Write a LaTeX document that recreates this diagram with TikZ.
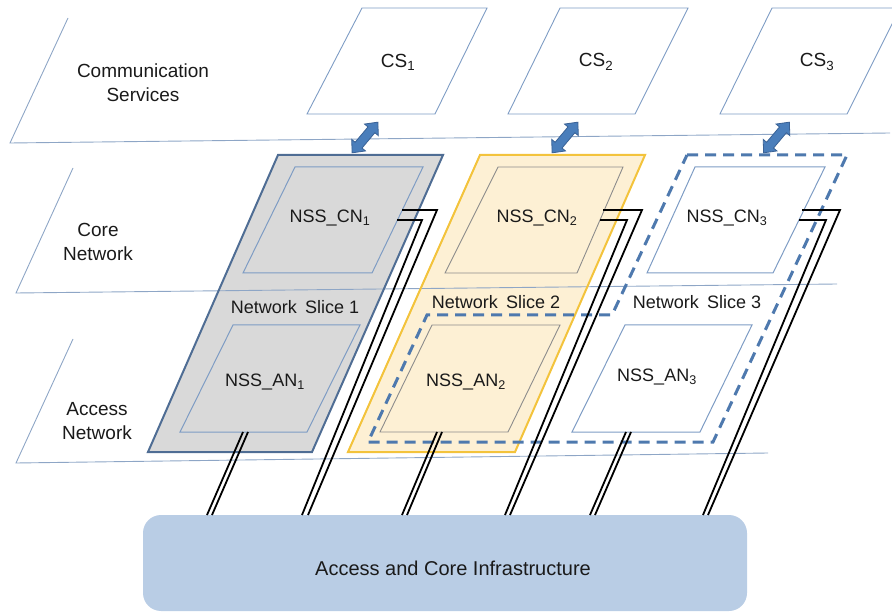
\documentclass[tikz,border=0pt]{standalone}
\usepackage{fontspec}
\setmainfont{Liberation Sans}
\definecolor{layerline}{HTML}{8EA6C6}
\definecolor{boxblue}{HTML}{7E9CC4}
\definecolor{sliceoneedge}{HTML}{4F6D94}
\definecolor{sliceonefill}{HTML}{D9D9D9}
\definecolor{slicetwoedge}{HTML}{F3C33C}
\definecolor{slicetwofill}{HTML}{FDF0D4}
\definecolor{slicethreeedge}{HTML}{4E79AE}
\definecolor{arrowblue}{HTML}{4A7EBB}
\definecolor{arrowdark}{HTML}{3A6296}
\definecolor{infrafill}{HTML}{B9CDE5}
\definecolor{txt}{HTML}{1A1A1A}
\begin{document}
\begin{tikzpicture}[x=1pt,y=-1pt,
  layer/.style={draw=layerline, line width=0.9pt},
  csbox/.style={draw=boxblue, line width=0.9pt},
  innerblue/.style={draw=boxblue, line width=1pt},
  innergray/.style={draw=black!45, line width=0.9pt},
  lbl/.style={font=\fontsize{19}{24}\selectfont, align=center, text=txt, inner sep=0pt},
  nss/.style={font=\fontsize{18}{22}\selectfont, text=txt, inner sep=0pt},
  wire/.style={line width=1.8pt, draw=black, line join=miter},
  biarrow/.style={fill=arrowblue, draw=arrowdark, line width=0.8pt, line join=miter}]
\useasboundingbox (0,0) rectangle (892,612);
\clip (0,0) rectangle (892,612);

% layer planes (left and bottom edges)
\draw[layer] (68,18) -- (10,143) -- (890,133);

% CS boxes
\draw[csbox] (362,8) -- (487,8) -- (435,114) -- (307,114) -- cycle;
\draw[csbox] (560,8) -- (688,8) -- (635,114) -- (508,114) -- cycle;
\draw[csbox] (772,8) -- (900,8) -- (847,114) -- (720,114) -- cycle;
\node[lbl] (cs1) at (398,62) {CS\textsubscript{1}};
\node[lbl] (cs2) at (596,62) {CS\textsubscript{2}};
\node[lbl] (cs3) at (817,62) {CS\textsubscript{3}};

% slice 1 and slice 2 fills
\fill[sliceonefill] (278,155) -- (443,155) -- (312,452) -- (148,452) -- cycle;
\fill[slicetwofill] (480,155) -- (645,155) -- (515,452) -- (348,452) -- cycle;

% layer plane lines crossing the slices
\draw[layer] (73,168) -- (16,293) -- (837,284);
\draw[layer] (73,339) -- (16,463) -- (768,453);

\draw[sliceoneedge, line width=2pt, line join=miter] (278,155) -- (443,155) -- (312,452) -- (148,452) -- cycle;
\draw[slicetwoedge, line width=2pt, line join=miter] (480,155) -- (645,155) -- (515,452) -- (348,452) -- cycle;

% inner NSS boxes
\draw[innerblue] (295,167) -- (423,167) -- (372,273) -- (243,273) -- cycle;
\draw[innerblue] (233,325) -- (360,325) -- (307,432) -- (180,432) -- cycle;
\draw[innergray] (498,167) -- (623,167) -- (577,273) -- (445,273) -- cycle;
\draw[innergray] (432,325) -- (560,325) -- (508,432) -- (380,432) -- cycle;
\draw[innerblue] (695,167) -- (825,167) -- (773,273) -- (647,273) -- cycle;
\draw[innerblue] (625,325) -- (752,325) -- (700,432) -- (572,432) -- cycle;

% slice 3 (dashed)
\draw[slicethreeedge, line width=3pt, dash pattern=on 11pt off 7pt, line join=miter]
  (687,155) -- (847,155) -- (713,442) -- (368,442) -- (427,315) -- (612,315) -- cycle;

% labels
\node[lbl] (lcs) at (143,83) {Communication\\Services};
\node[lbl] (lcn) at (98,242) {Core\\Network};
\node[lbl] (lan) at (97,421) {Access\\Network};
\node[nss] (cn1) at (330,218) {NSS\_CN\textsubscript{1}};
\node[nss] (cn2) at (537,218) {NSS\_CN\textsubscript{2}};
\node[nss] (cn3) at (727,218) {NSS\_CN\textsubscript{3}};
\node[nss] (an1) at (265,382) {NSS\_AN\textsubscript{1}};
\node[nss] (an2) at (466,382) {NSS\_AN\textsubscript{2}};
\node[nss] (an3) at (657,377) {NSS\_AN\textsubscript{3}};
\node[nss] (ns1) at (295,307) {Network\hspace{0.45em}Slice 1};
\node[nss] (ns2) at (496,302) {Network\hspace{0.45em}Slice 2};
\node[nss] (ns3) at (697,302) {Network\hspace{0.45em}Slice 3};

% infrastructure
\node[draw=none, fill=infrafill, rounded corners=18pt, minimum width=604pt, minimum height=96pt, inner sep=0pt] (infra) at (445,563) {};
\node[font=\fontsize{20}{24}\selectfont, text=txt, inner sep=0pt] (infratext) at (453,568) {Access and Core Infrastructure};

% connector coordinates
\coordinate (c1a) at (402,210); \coordinate (c1b) at (437,210); \coordinate (c1c) at (308,515);
\coordinate (c1d) at (397,220); \coordinate (c1e) at (422,220); \coordinate (c1f) at (302,515);
\coordinate (c2a) at (603,210); \coordinate (c2b) at (642,210); \coordinate (c2c) at (510,515);
\coordinate (c2d) at (600,220); \coordinate (c2e) at (627,220); \coordinate (c2f) at (505,515);
\coordinate (c3a) at (802,210); \coordinate (c3b) at (840,210); \coordinate (c3c) at (708,515);
\coordinate (c3d) at (799,220); \coordinate (c3e) at (826,220); \coordinate (c3f) at (703,515);
\coordinate (a1a) at (243,432); \coordinate (a1b) at (207,515);
\coordinate (a1c) at (248,432); \coordinate (a1d) at (212,515);
\coordinate (a2a) at (437,432); \coordinate (a2b) at (402,515);
\coordinate (a2c) at (442,432); \coordinate (a2d) at (407,515);
\coordinate (a3a) at (626,432); \coordinate (a3b) at (590,515);
\coordinate (a3c) at (631,432); \coordinate (a3d) at (595,515);

% core network connectors
\draw[wire] (c1a) -- (c1b) -- (c1c);
\draw[wire] (c1d) -- (c1e) -- (c1f);
\draw[wire] (c2a) -- (c2b) -- (c2c);
\draw[wire] (c2d) -- (c2e) -- (c2f);
\draw[wire] (c3a) -- (c3b) -- (c3c);
\draw[wire] (c3d) -- (c3e) -- (c3f);
% access network connectors
\draw[wire] (a1a) -- (a1b); \draw[wire] (a1c) -- (a1d);
\draw[wire] (a2a) -- (a2b); \draw[wire] (a2c) -- (a2d);
\draw[wire] (a3a) -- (a3b); \draw[wire] (a3c) -- (a3d);

% double arrows between services and slices
\foreach \cx/\nm in {365/ar1, 565/ar2, 776.5/ar3}{
  \begin{scope}[shift={(\cx,137.5)}, rotate=50]
    \draw[biarrow] (-20,0) -- (-10,9) -- (-10,4.5) -- (10,4.5) -- (10,9) -- (20,0)
      -- (10,-9) -- (10,-4.5) -- (-10,-4.5) -- (-10,-9) -- cycle;
    \coordinate (\nm) at (0,0);
  \end{scope}
}
\end{tikzpicture}
\end{document}
